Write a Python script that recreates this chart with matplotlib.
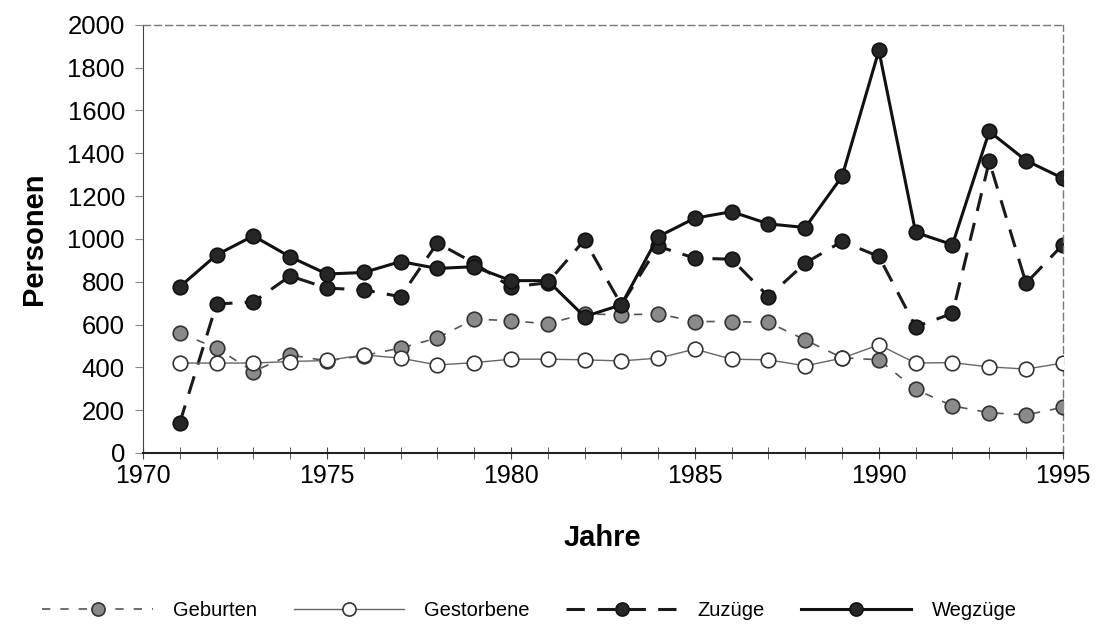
import matplotlib.pyplot as plt

plt.rcParams['font.family'] = ['Liberation Sans', 'DejaVu Sans']

# Werte
jahre = list(range(1971, 1996))
geburten = [560, 490, 380, 458, 430, 455, 490, 537, 625, 618, 603, 650, 645, 650,
            614, 614, 610, 528, 445, 435, 297, 220, 188, 178, 213]
gestorbene = [420, 420, 420, 427, 432, 458, 443, 411, 422, 438, 438, 435, 430, 443,
              485, 438, 435, 407, 443, 505, 420, 422, 402, 392, 420]
zuzuege = [140, 696, 705, 827, 770, 762, 730, 981, 887, 775, 795, 995, 692, 965,
           910, 905, 730, 887, 988, 918, 590, 652, 1362, 793, 973]
wegzuege = [776, 925, 1014, 916, 836, 843, 894, 862, 870, 805, 805, 637, 692, 1010,
            1097, 1127, 1070, 1053, 1292, 1880, 1030, 973, 1502, 1366, 1283]

fig = plt.figure(figsize=(11.03, 6.26), dpi=100)
ax = fig.add_axes([0.1296, 0.2764, 0.834, 0.684])

ax.plot(jahre, zuzuege, color='#1a1a1a', lw=2.2, ls=(0, (6, 4)), marker='o', ms=10.5,
        mfc='#262626', mec='#111111', mew=1.2, label='Zuzüge', zorder=2)
ax.plot(jahre, geburten, color='#555555', lw=1.2, ls=(0, (5, 6)), marker='o', ms=10.5,
        mfc='#8a8a8a', mec='#333333', mew=1.2, label='Geburten', zorder=3)
ax.plot(jahre, gestorbene, color='#666666', lw=1.0, ls='-', marker='o', ms=10.5,
        mfc='white', mec='#333333', mew=1.2, label='Gestorbene', zorder=4)
ax.plot(jahre, wegzuege, color='#111111', lw=2.2, ls='-', marker='o', ms=10.5,
        mfc='#262626', mec='#111111', mew=1.2, label='Wegzüge', zorder=5)

ax.set_xlim(1970, 1995)
ax.set_ylim(0, 2000)
ax.set_xticks(range(1970, 1996, 5))
ax.set_xticks(range(1970, 1996), minor=True)
ax.set_yticks(range(0, 2001, 200))
ax.tick_params(axis='x', which='both', direction='inout', length=8, labelsize=18,
               pad=4, color='#444444')
ax.tick_params(axis='y', direction='out', length=6, labelsize=18.5, pad=7, color='#888888')

for s in ['top', 'right']:
    ax.spines[s].set_linestyle((0, (5, 3)))
    ax.spines[s].set_color('#777777')
    ax.spines[s].set_linewidth(1)
ax.spines['left'].set_color('#444444')
ax.spines['bottom'].set_color('#222222')
ax.spines['bottom'].set_linewidth(1.5)

ax.set_xlabel('Jahre', fontsize=21, fontweight='bold', labelpad=26)
ax.set_ylabel('Personen', fontsize=21, fontweight='bold', labelpad=14)

h, l = ax.get_legend_handles_labels()
order = [1, 2, 0, 3]
fig.legend([h[i] for i in order], [l[i] for i in order], loc='center',
           bbox_to_anchor=(0.48, 0.025), ncol=4, frameon=False, fontsize=14.5,
           handlelength=5.5, handletextpad=1.0, columnspacing=1.8, markerscale=0.9)

fig.savefig('out.png', dpi=100)
